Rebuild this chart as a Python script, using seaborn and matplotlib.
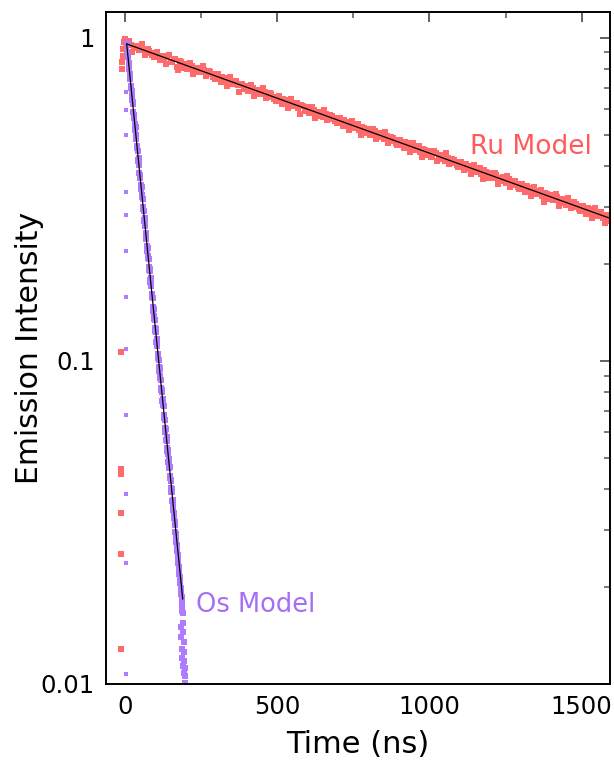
import matplotlib
matplotlib.use("Agg")
import matplotlib.pyplot as plt
import matplotlib.ticker as mticker
import seaborn as sns
import pandas as pd

# ---------------- data ----------------
ru_time = [0, 10, 20, 30, 40, 50, 60, 70, 80, 90,
           100, 110, 120, 130, 140, 150, 160, 170, 180, 190,
           200, 210, 220, 230, 240, 250, 260, 270, 280, 290,
           300, 310, 320, 330, 340, 350, 360, 370, 380, 390,
           400, 410, 420, 430, 440, 450, 460, 470, 480, 490,
           500, 510, 520, 530, 540, 550, 560, 570, 580, 590,
           600, 610, 620, 630, 640, 650, 660, 670, 680, 690,
           700, 710, 720, 730, 740, 750, 760, 770, 780, 790,
           800, 810, 820, 830, 840, 850, 860, 870, 880, 890,
           900, 910, 920, 930, 940, 950, 960, 970, 980, 990,
           1000, 1010, 1020, 1030, 1040, 1050, 1060, 1070, 1080, 1090,
           1100, 1110, 1120, 1130, 1140, 1150, 1160, 1170, 1180, 1190,
           1200, 1210, 1220, 1230, 1240, 1250, 1260, 1270, 1280, 1290,
           1300, 1310, 1320, 1330, 1340, 1350, 1360, 1370, 1380, 1390,
           1400, 1410, 1420, 1430, 1440, 1450, 1460, 1470, 1480, 1490,
           1500, 1510, 1520, 1530, 1540, 1550, 1560, 1570, 1580, 1590, 1600]
ru_value = [0.985, 0.962, 0.951, 0.930, 0.944, 0.918, 0.925, 0.897, 0.910, 0.884,
            0.896, 0.872, 0.880, 0.851, 0.869, 0.838, 0.857, 0.812, 0.845, 0.812,
            0.829, 0.806, 0.818, 0.791, 0.803, 0.781, 0.795, 0.770, 0.780, 0.757,
            0.768, 0.745, 0.756, 0.733, 0.744, 0.722, 0.734, 0.711, 0.720, 0.699,
            0.710, 0.688, 0.699, 0.677, 0.690, 0.667, 0.679, 0.656, 0.668, 0.646,
            0.657, 0.636, 0.647, 0.626, 0.638, 0.616, 0.628, 0.607, 0.618, 0.597,
            0.608, 0.588, 0.599, 0.579, 0.590, 0.570, 0.581, 0.561, 0.572, 0.552,
            0.563, 0.543, 0.554, 0.536, 0.546, 0.527, 0.537, 0.518, 0.529, 0.510,
            0.520, 0.502, 0.513, 0.495, 0.505, 0.487, 0.497, 0.479, 0.489, 0.472,
            0.481, 0.465, 0.474, 0.457, 0.467, 0.450, 0.460, 0.444, 0.453, 0.436,
            0.445, 0.430, 0.438, 0.423, 0.432, 0.416, 0.425, 0.410, 0.419, 0.403,
            0.412, 0.397, 0.406, 0.391, 0.400, 0.385, 0.394, 0.379, 0.388, 0.373,
            0.381, 0.367, 0.376, 0.361, 0.370, 0.355, 0.364, 0.350, 0.359, 0.344,
            0.352, 0.339, 0.347, 0.334, 0.342, 0.329, 0.336, 0.324, 0.331, 0.319,
            0.326, 0.314, 0.321, 0.309, 0.316, 0.304, 0.311, 0.299, 0.306, 0.295,
            0.301, 0.290, 0.297, 0.285, 0.292, 0.281, 0.288, 0.276, 0.283, 0.272, 0.279]

# intermediate Ru samples (half-step times)
ru_time_b = [5, 15, 25, 35, 45, 55, 65, 75, 85, 95,
             105, 115, 125, 135, 145, 155, 165, 175, 185, 195,
             205, 215, 225, 235, 245, 255, 265, 275, 285, 295,
             305, 315, 325, 335, 345, 355, 365, 375, 385, 395,
             405, 415, 425, 435, 445, 455, 465, 475, 485, 495,
             505, 515, 525, 535, 545, 555, 565, 575, 585, 595,
             605, 615, 625, 635, 645, 655, 665, 675, 685, 695,
             705, 715, 725, 735, 745, 755, 765, 775, 785, 795,
             805, 815, 825, 835, 845, 855, 865, 875, 885, 895,
             905, 915, 925, 935, 945, 955, 965, 975, 985, 995,
             1005, 1015, 1025, 1035, 1045, 1055, 1065, 1075, 1085, 1095,
             1105, 1115, 1125, 1135, 1145, 1155, 1165, 1175, 1185, 1195,
             1205, 1215, 1225, 1235, 1245, 1255, 1265, 1275, 1285, 1295,
             1305, 1315, 1325, 1335, 1345, 1355, 1365, 1375, 1385, 1395,
             1405, 1415, 1425, 1435, 1445, 1455, 1465, 1475, 1485, 1495,
             1505, 1515, 1525, 1535, 1545, 1555, 1565, 1575, 1585, 1595]
ru_value_b = [0.937, 0.977, 0.904, 0.944, 0.918, 0.957, 0.886, 0.924, 0.898, 0.869,
              0.902, 0.852, 0.880, 0.829, 0.884, 0.842, 0.861, 0.796, 0.839, 0.808,
              0.802, 0.836, 0.774, 0.807, 0.785, 0.818, 0.758, 0.791, 0.769, 0.743,
              0.771, 0.728, 0.752, 0.709, 0.755, 0.721, 0.736, 0.680, 0.718, 0.691,
              0.685, 0.715, 0.661, 0.690, 0.671, 0.700, 0.648, 0.675, 0.657, 0.636,
              0.660, 0.623, 0.643, 0.607, 0.646, 0.616, 0.629, 0.581, 0.613, 0.591,
              0.586, 0.611, 0.565, 0.590, 0.574, 0.598, 0.554, 0.577, 0.562, 0.543,
              0.564, 0.533, 0.550, 0.518, 0.552, 0.527, 0.539, 0.498, 0.525, 0.505,
              0.501, 0.522, 0.484, 0.505, 0.491, 0.512, 0.473, 0.494, 0.481, 0.465,
              0.482, 0.455, 0.471, 0.444, 0.473, 0.450, 0.461, 0.426, 0.449, 0.432,
              0.428, 0.447, 0.414, 0.431, 0.420, 0.438, 0.405, 0.422, 0.411, 0.398,
              0.412, 0.389, 0.402, 0.379, 0.404, 0.385, 0.394, 0.364, 0.384, 0.369,
              0.367, 0.382, 0.353, 0.369, 0.359, 0.374, 0.346, 0.361, 0.351, 0.340,
              0.353, 0.333, 0.343, 0.324, 0.345, 0.329, 0.337, 0.311, 0.328, 0.316,
              0.314, 0.327, 0.302, 0.315, 0.307, 0.320, 0.296, 0.309, 0.300, 0.291,
              0.302, 0.284, 0.294, 0.277, 0.296, 0.281, 0.288, 0.266, 0.281, 0.270]

# Ru instrument-response rise (before the decay)
ru_rise_time = [-14, -13, -13, -13, -13, -12, -9, -8, -7, -5, -3, -1]
ru_rise_value = [0.0128, 0.0252, 0.0338, 0.0447, 0.0463, 0.1066,
                 0.80, 0.84, 0.88, 0.92, 0.97, 0.99]

os_time = [6, 8, 10, 12, 14, 16, 18, 20, 22, 24,
           26, 28, 30, 32, 34, 36, 38, 40, 42, 44,
           46, 48, 50, 52, 54, 56, 58, 60, 62, 64,
           66, 68, 70, 72, 74, 76, 78, 80, 82, 84,
           86, 88, 90, 92, 94, 96, 98, 100, 102, 104,
           106, 108, 110, 112, 114, 116, 118, 120, 122, 124,
           126, 128, 130, 132, 134, 136, 138, 140, 142, 144,
           146, 148, 150, 152, 154, 156, 158, 160, 162, 164,
           166, 168, 170, 172, 174, 176, 178, 180, 182, 184,
           186, 188, 190, 191, 192, 193, 194, 195, 196, 197, 198,
           183, 185, 187, 189, 192, 194]
os_value = [0.965, 0.905, 0.884, 0.832, 0.812, 0.762, 0.746, 0.699, 0.685, 0.642,
            0.630, 0.589, 0.578, 0.540, 0.531, 0.495, 0.487, 0.454, 0.447, 0.416,
            0.410, 0.382, 0.376, 0.351, 0.346, 0.321, 0.317, 0.294, 0.291, 0.270,
            0.267, 0.248, 0.245, 0.227, 0.225, 0.208, 0.206, 0.191, 0.190, 0.175,
            0.174, 0.161, 0.160, 0.147, 0.146, 0.135, 0.134, 0.124, 0.123, 0.113,
            0.1125, 0.1050, 0.1035, 0.0960, 0.0950, 0.0885, 0.0870, 0.0810, 0.0800, 0.0740,
            0.0730, 0.0680, 0.0670, 0.0620, 0.0615, 0.0570, 0.0565, 0.0525, 0.0515, 0.0480,
            0.0465, 0.0440, 0.0425, 0.0405, 0.0392, 0.0368, 0.0360, 0.0338, 0.0326, 0.0310,
            0.0296, 0.0283, 0.0270, 0.0258, 0.0248, 0.0236, 0.0226, 0.0214, 0.0205, 0.0194,
            0.0186, 0.0176, 0.0166, 0.0154, 0.0145, 0.0135, 0.0126, 0.0118, 0.0112, 0.0106, 0.0101,
            0.0150, 0.0140, 0.0128, 0.0120, 0.0114, 0.0108]

# intermediate Os samples (odd times)
os_time_b = [7, 9, 11, 13, 15, 17, 19, 21, 23, 25,
             27, 29, 31, 33, 35, 37, 39, 41, 43, 45,
             47, 49, 51, 53, 55, 57, 59, 61, 63, 65,
             67, 69, 71, 73, 75, 77, 79, 81, 83, 85,
             87, 89, 91, 93, 95, 97, 99, 101, 103, 105,
             107, 109, 111, 113, 115, 117, 119, 121, 123, 125,
             127, 129, 131, 133, 135, 137, 139, 141, 143, 145,
             147, 149, 151, 153, 155, 157, 159, 161, 163, 165,
             167, 169, 171, 173, 175, 177, 179, 181, 183, 185,
             187, 189]
os_value_b = [0.955, 0.879, 0.868, 0.797, 0.812, 0.770, 0.709, 0.699, 0.644, 0.654,
              0.621, 0.571, 0.565, 0.519, 0.528, 0.501, 0.461, 0.455, 0.419, 0.425,
              0.404, 0.371, 0.367, 0.339, 0.344, 0.325, 0.299, 0.296, 0.273, 0.277,
              0.262, 0.242, 0.238, 0.219, 0.224, 0.211, 0.195, 0.193, 0.178, 0.180,
              0.170, 0.158, 0.156, 0.143, 0.145, 0.138, 0.126, 0.125, 0.114, 0.117,
              0.111, 0.1022, 0.1009, 0.0928, 0.0945, 0.0897, 0.0825, 0.0814, 0.0749, 0.0762,
              0.0723, 0.0665, 0.0657, 0.0603, 0.0615, 0.0583, 0.0536, 0.0530, 0.0487, 0.0496,
              0.0470, 0.0433, 0.0427, 0.0393, 0.0400, 0.0372, 0.0345, 0.0339, 0.0312, 0.0316,
              0.0292, 0.0275, 0.0268, 0.0248, 0.0250, 0.0230, 0.0219, 0.0210, 0.0198, 0.0190,
              0.0178, 0.0168]

# Os instrument-response rise
os_rise_time = [3, 3, 3, 3, 3, 3, 3, 3, 3, 3, 3, 3]
os_rise_value = [0.681, 0.597, 0.500, 0.333, 0.283, 0.219,
                 0.158, 0.109, 0.068, 0.0387, 0.0237, 0.0107]

# single-exponential model fits (end points of straight lines on log axis)
ru_fit_time = [6, 1593]
ru_fit_value = [0.956, 0.276]
os_fit_time = [6, 190]
os_fit_value = [0.956, 0.0183]

ru_label = "Ru Model"
os_label = "Os Model"

# ---------------- styling ----------------
sns.set_theme(style="white")
plt.rcParams['font.family'] = ['DejaVu Sans']

ru_color = "#ff6a6a"
os_color = "#b07cff"
ru_text_color = "#ff5a5a"
os_text_color = "#a66ef5"

fig = plt.figure(figsize=(6.14, 7.65), dpi=100)
ax = fig.add_axes([0.1726, 0.1059, 0.8209, 0.8784])

ru_df = pd.DataFrame({"t": ru_rise_time + ru_time + ru_time_b,
                      "v": ru_rise_value + ru_value + ru_value_b})
os_rise_df = pd.DataFrame({"t": os_rise_time, "v": os_rise_value})
os_df = pd.DataFrame({"t": os_time + os_time_b, "v": os_value + os_value_b})

sns.scatterplot(data=ru_df, x="t", y="v", ax=ax, color=ru_color, marker="s",
                s=13, linewidth=0, zorder=2)
sns.scatterplot(data=os_rise_df, x="t", y="v", ax=ax, color=os_color, marker="s",
                s=10, linewidth=0, zorder=2)
sns.scatterplot(data=os_df, x="t", y="v", ax=ax, color=os_color, marker="s",
                s=20, linewidth=0, zorder=2)

sns.lineplot(x=ru_fit_time, y=ru_fit_value, ax=ax, color="black", linewidth=0.9,
             zorder=3, estimator=None)
sns.lineplot(x=os_fit_time, y=os_fit_value, ax=ax, color="black", linewidth=0.9,
             zorder=3, estimator=None)

ax.set_yscale("log")
ax.set_ylim(0.01, 1.2)
ax.set_xlim(-62, 1593)

ax.set_yticks([0.01, 0.1, 1])
ax.yaxis.set_major_formatter(mticker.FixedFormatter(["0.01", "0.1", "1"]))
ax.yaxis.set_minor_locator(mticker.LogLocator(base=10, subs=range(2, 10)))
ax.yaxis.set_minor_formatter(mticker.NullFormatter())
ax.set_xticks([0, 500, 1000, 1500])
ax.xaxis.set_minor_locator(mticker.FixedLocator([250, 750, 1250]))

ax.tick_params(axis="both", which="major", direction="in", length=7, width=1.3,
               color="#555555", labelsize=17.5, top=True, right=True, pad=8,
               labelcolor="black")
ax.tick_params(axis="both", which="minor", direction="in", length=4, width=1.1,
               color="#555555", top=True, right=True)

for sp in ax.spines.values():
    sp.set_color("black")
    sp.set_linewidth(1.4)

ax.set_xlabel("Time (ns)", fontsize=22, labelpad=8, color="black")
ax.set_ylabel("Emission Intensity", fontsize=21.5, labelpad=-2, color="black")

ax.text(1133, 0.459, ru_label, color=ru_text_color, fontsize=19, va="center", ha="left")
ax.text(234, 0.01753, os_label, color=os_text_color, fontsize=18.5, va="center", ha="left")

ax.grid(False)
fig.savefig("out.png", dpi=100)
